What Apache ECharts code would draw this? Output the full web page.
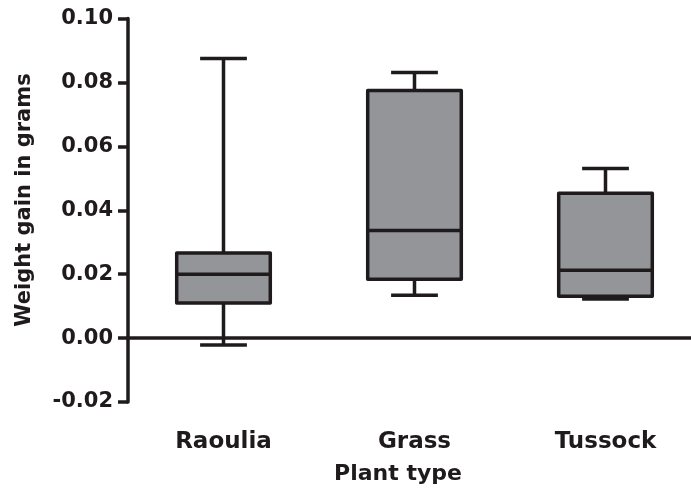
<!DOCTYPE html>
<html>
<head>
<meta charset="utf-8">
<script src="https://cdn.jsdelivr.net/npm/echarts@6/dist/echarts.min.js"></script>
<style>
  html, body { margin: 0; padding: 0; background: #ffffff; }
  #chart { width: 691px; height: 492px; }
</style>
</head>
<body>
<div id="chart"></div>
<script>
// Weight gain per plant type: five-number summaries
const categories  = ['Raoulia', 'Grass', 'Tussock'];
const whiskerLow  = [-0.0022, 0.0134, 0.0122];
const quartile1   = [0.0110, 0.0184, 0.0131];
const medians     = [0.0200, 0.0337, 0.0212];
const quartile3   = [0.0266, 0.0775, 0.0453];
const whiskerHigh = [0.0875, 0.0831, 0.0531];

// value axis range
const yMin = -0.02;
const yMax = 0.10;
const yStep = 0.02;

const ink = '#1f1b1c';
const boxFill = '#939598';
const fontFam = '"DejaVu Sans", sans-serif';
const strokeW = 3.5;

const boxData = categories.map((c, i) => [
  i, whiskerLow[i], quartile1[i], medians[i], quartile3[i], whiskerHigh[i]
]);

function renderBox(params, api) {
  const i = api.value(0);
  const pMin = api.coord([i, api.value(1)]);
  const pQ1  = api.coord([i, api.value(2)]);
  const pMed = api.coord([i, api.value(3)]);
  const pQ3  = api.coord([i, api.value(4)]);
  const pMax = api.coord([i, api.value(5)]);
  const band = api.size([1, 0])[0];
  const boxW = band * 0.49;
  const capW = band * 0.245;
  const cx = pMed[0];
  const lineStyle = { stroke: ink, lineWidth: strokeW, lineCap: 'butt' };
  return {
    type: 'group',
    children: [
      { type: 'line', shape: { x1: cx, y1: pMax[1], x2: cx, y2: pMin[1] }, style: lineStyle },
      { type: 'line', shape: { x1: cx - capW / 2, y1: pMax[1], x2: cx + capW / 2, y2: pMax[1] }, style: lineStyle },
      { type: 'line', shape: { x1: cx - capW / 2, y1: pMin[1], x2: cx + capW / 2, y2: pMin[1] }, style: lineStyle },
      {
        type: 'rect',
        shape: { x: cx - boxW / 2, y: pQ3[1], width: boxW, height: pQ1[1] - pQ3[1] },
        style: { fill: boxFill, stroke: ink, lineWidth: strokeW, lineJoin: 'round' }
      },
      { type: 'line', shape: { x1: cx - boxW / 2, y1: pMed[1], x2: cx + boxW / 2, y2: pMed[1] }, style: lineStyle }
    ]
  };
}

const chart = echarts.init(document.getElementById('chart'), null, { renderer: 'canvas' });

chart.setOption({
  animation: false,
  backgroundColor: '#ffffff',
  grid: {
    left: 128, top: 18.5, width: 573, bottom: 90,
    containLabel: false, outerBoundsMode: 'none'
  },
  xAxis: [
    {
      type: 'category',
      data: categories,
      boundaryGap: true,
      axisLine: { show: true, onZero: true, lineStyle: { color: ink, width: strokeW } },
      axisTick: { show: false },
      axisLabel: { show: false },
      splitLine: { show: false }
    },
    {
      type: 'category',
      data: categories,
      position: 'bottom',
      boundaryGap: true,
      axisLine: { show: false, onZero: false },
      axisTick: { show: false },
      axisLabel: {
        show: true, margin: 29, color: ink,
        fontFamily: fontFam, fontWeight: 'bold', fontSize: 23
      },
      splitLine: { show: false }
    }
  ],
  yAxis: {
    type: 'value',
    min: yMin,
    max: yMax,
    interval: yStep,
    axisLine: { show: true, lineStyle: { color: ink, width: strokeW } },
    axisTick: { show: true, inside: false, length: 10, lineStyle: { color: ink, width: strokeW } },
    axisLabel: {
      margin: 15, color: ink,
      fontFamily: fontFam, fontWeight: 'bold', fontSize: 21,
      formatter: v => v.toFixed(2)
    },
    splitLine: { show: false }
  },
  graphic: [
    {
      type: 'text',
      x: 25, y: 200,
      rotation: Math.PI / 2,
      style: {
        text: 'Weight gain in grams',
        fill: ink, font: 'bold 21px "DejaVu Sans", sans-serif',
        align: 'center', verticalAlign: 'middle'
      }
    },
    {
      type: 'text',
      x: 398, y: 474,
      style: {
        text: 'Plant type',
        fill: ink, font: 'bold 22px "DejaVu Sans", sans-serif',
        align: 'center', verticalAlign: 'middle'
      }
    }
  ],
  series: [
    {
      type: 'custom',
      xAxisIndex: 0,
      yAxisIndex: 0,
      renderItem: renderBox,
      encode: { x: 0, y: [1, 2, 3, 4, 5] },
      data: boxData,
      clip: false
    }
  ]
});
</script>
</body>
</html>
